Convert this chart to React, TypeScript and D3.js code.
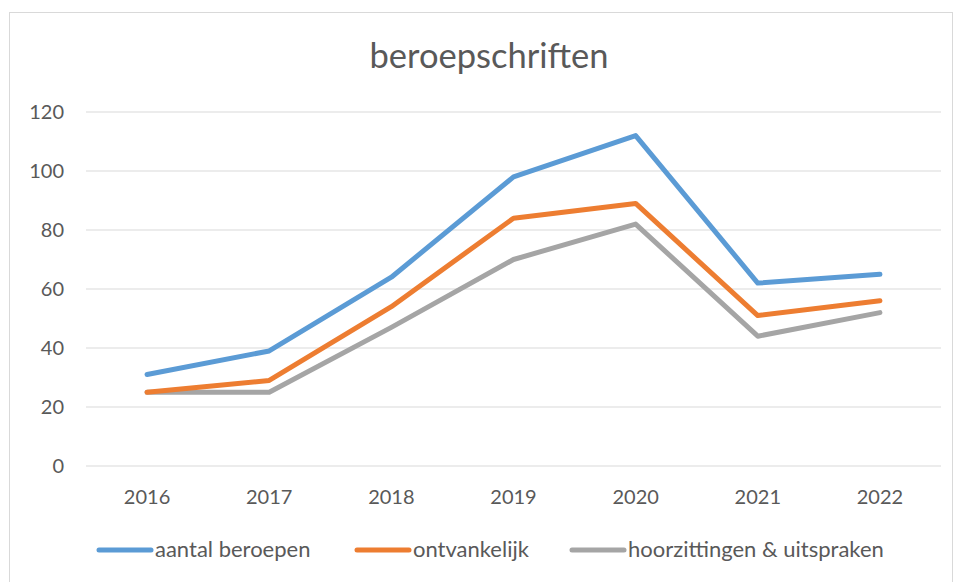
import React, { useEffect, useRef } from 'react';
import * as d3 from 'd3';

const years = ['2016', '2017', '2018', '2019', '2020', '2021', '2022'];
const aantalBeroepen = [31, 39, 64, 98, 112, 62, 65];
const ontvankelijk = [25, 29, 54, 84, 89, 51, 56];
const hoorzittingen = [25, 25, 47, 70, 82, 44, 52];
const yTicks = [0, 20, 40, 60, 80, 100, 120];

const series = [
  { name: 'aantal beroepen', values: aantalBeroepen, color: '#5b9bd5' },
  { name: 'ontvankelijk', values: ontvankelijk, color: '#ed7d31' },
  { name: 'hoorzittingen & uitspraken', values: hoorzittingen, color: '#a5a5a5' }
];

const width = 955;
const height = 582;
const font = 'Lato, "Open Sans", sans-serif';

export default function App() {
  const ref = useRef<SVGSVGElement>(null);

  useEffect(() => {
    const svg = d3.select(ref.current);
    svg.selectAll('*').remove();

    // chart frame
    svg.append('rect')
      .attr('x', 9.5).attr('y', 12.5)
      .attr('width', 943).attr('height', 580)
      .attr('fill', '#fff').attr('stroke', '#d9d9d9');

    svg.append('text')
      .attr('x', 489).attr('y', 68)
      .attr('text-anchor', 'middle')
      .attr('font-family', font).attr('font-size', 34.5)
      .attr('fill', '#595959')
      .text('beroepschriften');

    const x = d3.scaleBand().domain(years).range([86, 941]);
    const y = d3.scaleLinear().domain([0, 120]).range([466, 112]);

    const grid = svg.append('g');
    grid.selectAll('line').data(yTicks).enter().append('line')
      .attr('x1', 86).attr('x2', 941)
      .attr('y1', d => y(d)).attr('y2', d => y(d))
      .attr('stroke', '#d9d9d9').attr('stroke-width', 1);

    svg.append('g').selectAll('text').data(yTicks).enter().append('text')
      .attr('x', 64).attr('y', d => y(d) + 7)
      .attr('text-anchor', 'end')
      .attr('font-family', font).attr('font-size', 20).attr('fill', '#595959')
      .text(d => d);

    svg.append('g').selectAll('text').data(years).enter().append('text')
      .attr('x', d => (x(d) as number) + x.bandwidth() / 2).attr('y', 504)
      .attr('text-anchor', 'middle')
      .attr('font-family', font).attr('font-size', 20).attr('fill', '#595959')
      .text(d => d);

    const line = d3.line<number>()
      .x((d, i) => (x(years[i]) as number) + x.bandwidth() / 2)
      .y(d => y(d));

    [...series].reverse().forEach(s => {
      svg.append('path')
        .attr('d', line(s.values))
        .attr('fill', 'none')
        .attr('stroke', s.color)
        .attr('stroke-width', 5)
        .attr('stroke-linejoin', 'round')
        .attr('stroke-linecap', 'round');
    });

    const legendX = [97, 355, 570];
    const legend = svg.append('g').selectAll('g').data(series).enter().append('g')
      .attr('transform', (d, i) => 'translate(' + legendX[i] + ',550)');
    legend.append('line')
      .attr('x1', 2).attr('x2', 54)
      .attr('stroke', d => d.color).attr('stroke-width', 5)
      .attr('stroke-linecap', 'round');
    legend.append('text')
      .attr('x', 58).attr('y', 7)
      .attr('font-family', font).attr('font-size', 22).attr('fill', '#595959')
      .text(d => d.name);
  }, []);

  return (
    <svg ref={ref} width={width} height={height}
      style={{ position: 'absolute', left: 0, top: 0, display: 'block' }} />
  );
}
